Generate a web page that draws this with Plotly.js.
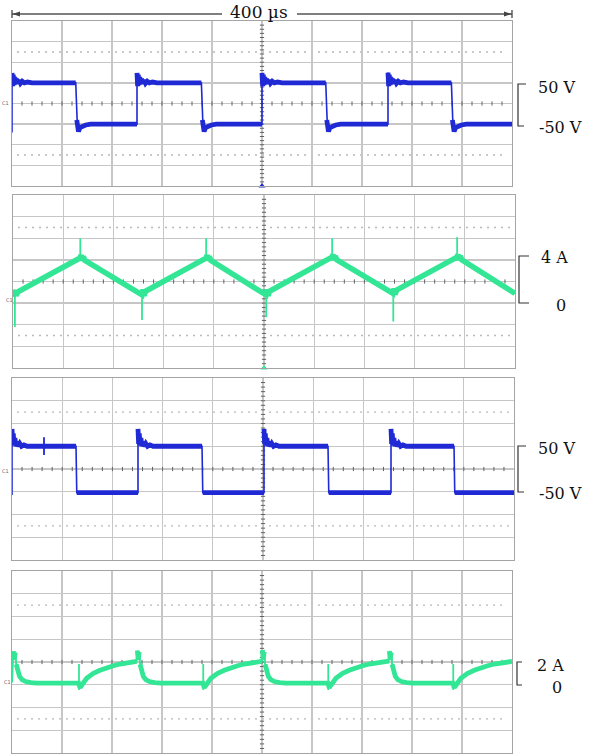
<!DOCTYPE html>
<html><head><meta charset="utf-8">
<script src="https://cdn.plot.ly/plotly-3.0.1.min.js"></script>
<style>html,body{margin:0;padding:0;background:#fff;}#chart{width:591px;height:755px;}</style>
</head><body><div id="chart"></div>
<script>
// ---------- text ----------
const spanLabel = "400 µs";
const ch1Labels = ["50 V", "-50 V"];
const ch2Labels = ["4 A", "0"];
const ch3Labels = ["50 V", "-50 V"];
const ch4Labels = ["2 A", "0"];
const chanTags = ["C1", "C1", "C1", "C1"];

// ---------- panel 1 : voltage (V) vs time (µs) ----------
const t_ch1 = [0,0,0.5,1,1.6,2.2,2.9,3.7,4.6,5.6,6.8,8.2,10,12.5,16,
  51,51.8,52.4,53.2,54.4,56,59,63,
  100,100,100.5,101,101.6,102.2,102.9,103.7,104.6,105.6,106.8,108.2,110,112.5,116,
  151.5,152.3,152.9,153.7,154.9,156.5,159.5,163.5,
  200,200,200.5,201,201.6,202.2,202.9,203.7,204.6,205.6,206.8,208.2,210,212.5,216,
  251,251.8,252.4,253.2,254.4,256,259,263,
  300.8,300.8,301.3,301.8,302.4,303,303.7,304.5,305.4,306.4,307.6,309,310.8,313.3,316.8,
  351.5,352.3,352.9,353.7,354.9,356.5,359.5,363.5,
  400];
const v_ch1 = [-70,74,42,70,45,64,47,60,48,57,49,54,50,52,50,
  50,-40,-64,-68,-58,-55,-52,-50,
  -50,74,42,70,45,64,47,60,48,57,49,54,50,52,50,
  50,-40,-64,-68,-58,-55,-52,-50,
  -50,74,42,70,45,64,47,60,48,57,49,54,50,52,50,
  50,-40,-64,-68,-58,-55,-52,-50,
  -50,75,42,70,45,64,47,60,48,57,49,54,50,52,50,
  50,-40,-64,-68,-58,-55,-52,-50,
  -50];

// ---------- panel 2 : current (A) ----------
const t_ch2 = [0,1.2,2.5,4, 53.4,54.2,55,56,57.2, 102.8,103.6,104.5,105.6,
  153.8,154.6,155.4,156.4,157.6, 201.6,202.4,203.3,204.4,
  254.2,255,255.8,256.8,258, 302.8,303.6,304.5,305.6,
  353.8,354.6,355.4,356.4,357.6, 400];
const i_ch2 = [0.6,1.2,0.7,1.05, 4.17,4.45,3.95,4.3,3.95, 0.76,1.25,0.7,1.1,
  4.17,4.45,3.95,4.3,3.95, 0.76,1.25,0.7,1.1,
  4.25,4.5,4.0,4.35,4.0, 0.9,1.35,0.8,1.2,
  4.25,4.5,4.0,4.35,4.0, 0.9];
const t_ch2spk = [1.5,1.5,null, 53.6,53.6,null, 102.8,102.8,null, 153.9,153.9,null, 201.8,201.8,null, 254.3,254.3,null, 303,303,null, 353.9,353.9];
const i_ch2spk = [0.9,-2.2,null, 4.2,6.0,null, 0.8,-1.55,null, 4.2,6.0,null, 0.8,-1.3,null, 4.25,6.0,null, 0.9,-1.7,null, 4.25,6.1];

// ---------- panel 3 : voltage (V) ----------
const t_ch3 = [0,0,0.5,1,1.6,2.3,3.1,4,5,6.2,7.6,9.5,12, 51,51.6,
  100.4,100.4,100.9,101.4,102,102.7,103.5,104.4,105.4,106.6,108,109.9,112.4, 151.4,152,
  200.8,200.8,201.3,201.8,202.4,203.1,203.9,204.8,205.8,207,208.4,210.3,212.8, 251.8,252.4,
  302,302,302.5,303,303.6,304.3,305.1,306,307,308.2,309.6,311.5,314, 352.2,352.8,
  400];
const v_ch3 = [-57,88,55,78,52,68,50,60,50,56,50,53,50, 50,-52,
  -52,88,55,78,52,68,50,60,50,56,50,53,50, 50,-52,
  -52,88,55,78,52,68,50,60,50,56,50,53,50, 50,-52,
  -52,88,55,78,52,68,50,60,50,56,50,53,50, 50,-52,
  -52];
const t_ch3spk = [25.5,25.5];
const v_ch3spk = [70,31];

// ---------- panel 4 : current (A) ----------
const t_ch4 = [0,1.0,1.8,2.6,3.4,4.5,6,8,11,15,20, 53.3,
  54.4,59.7,65.1,70.4,75.7,81.1,86.4,91.7,97.1,99.7,
  100.3,101,101.7,102.5,103.6,105,107,110,114,119, 152.7,
  153.8,159.1,164.5,169.8,175.1,180.5,185.8,191.1,196.5,199.7,
  200.3,201,201.7,202.5,203.6,205,207,210,214,219, 252.7,
  253.8,259.1,264.5,269.8,275.1,280.5,285.8,291.1,296.5,301.4,
  301.9,302.6,303.3,304.1,305.2,306.6,308.6,311.6,315.6,320.6, 352.7,
  353.8,359.1,364.5,369.8,375.1,380.5,385.8,391.1,396.5,400];
const i_ch4 = [0.2,2.95,2.2,2.85,1.8,1.2,0.75,0.45,0.28,0.18,0.15, 0.15,
  -0.26,0.57,1.0,1.27,1.5,1.67,1.82,1.94,2.03,2.05,
  3.0,2.2,2.9,1.8,1.2,0.75,0.45,0.28,0.18,0.15, 0.15,
  -0.26,0.57,1.0,1.27,1.5,1.67,1.82,1.94,2.03,2.05,
  3.05,2.2,2.9,1.8,1.2,0.75,0.45,0.28,0.18,0.15, 0.15,
  -0.26,0.57,1.0,1.27,1.5,1.67,1.82,1.94,2.03,2.07,
  2.97,2.2,2.85,1.8,1.2,0.75,0.45,0.28,0.18,0.15, 0.15,
  -0.26,0.57,1.0,1.27,1.5,1.67,1.82,1.94,2.03,2.05];
const t_ch4spk = [53.6,53.6,null, 153,153,null, 253,253,null, 353,353];
const i_ch4spk = [1.82,-0.46,null, 1.82,-0.46,null, 1.82,-0.46,null, 1.82,-0.46];

// ---------- styling / layout ----------
const W = 591, H = 755;
const PX = x => x / W, PY = y => 1 - y / H;
const BLUE = "#1f29d4", GREEN = "#33e695";
const GRID = "#c6c6c6", BORDER = "#a4a4a4", CENTER = "#707070";
const SERIF = "DejaVu Serif, Liberation Serif, serif";

// panel boxes in pixels [left, right, top, bottom] and vertical scale
const panels = [
  {box:[12,512,21,186], c:0, d:50},
  {box:[13,515,195,368], c:2, d:2},
  {box:[12,514,378,560], c:0, d:50},
  {box:[12,512,571,753], c:2, d:2}
];

const layout = {
  width: W, height: H, margin: {l:0, r:0, t:0, b:0},
  paper_bgcolor: "#fff", plot_bgcolor: "#fff", showlegend: false,
  shapes: [], annotations: []
};
const data = [];

panels.forEach((p, idx) => {
  const k = idx + 1;
  const xs = k === 1 ? "" : String(k);
  const [l, r, t, b] = p.box;
  layout["xaxis" + xs] = {
    domain: [PX(l), PX(r)], range: [0, 400], anchor: "y" + xs,
    showgrid: true, gridcolor: GRID, gridwidth: 1.3, tick0: 0, dtick: 40,
    showline: true, mirror: true, linecolor: BORDER, linewidth: 1.3,
    zeroline: false, showticklabels: false, ticks: "", fixedrange: true
  };
  layout["yaxis" + xs] = {
    domain: [PY(b), PY(t)], range: [p.c - 4*p.d, p.c + 4*p.d], anchor: "x" + xs,
    showgrid: true, gridcolor: GRID, gridwidth: 1.3, tick0: p.c, dtick: p.d,
    showline: true, mirror: true, linecolor: BORDER, linewidth: 1.3,
    zeroline: false, showticklabels: false, ticks: "", fixedrange: true
  };
  const xd = "x" + xs + " domain", yd = "y" + xs + " domain";
  [2.5, -2.5].forEach(m => layout.shapes.push({
    type: "line", xref: xd, yref: "y" + xs, x0: 0.01, x1: 0.99,
    y0: p.c + m*p.d, y1: p.c + m*p.d,
    line: {color: "#b8b8b8", width: 1.4, dash: "2px,5px"}, layer: "below"
  }));
  layout.shapes.push({type:"line", xref: xd, yref:"y"+xs, x0:0, x1:1, y0:p.c, y1:p.c,
    line:{color: CENTER, width: 1}, layer:"below"});
  layout.shapes.push({type:"line", xref:"x"+xs, yref: yd, x0:200, x1:200, y0:0, y1:1,
    line:{color: CENTER, width: 1}, layer:"below"});
  const hx = [], hy = [], vx = [], vy = [];
  for (let j = 1; j < 50; j++) { hx.push(j*8); hy.push(p.c); }
  for (let j = -19; j < 20; j++) { vx.push(200); vy.push(p.c + j*p.d/5); }
  data.push({x: hx, y: hy, xaxis:"x"+xs, yaxis:"y"+xs, mode:"markers", hoverinfo:"skip",
    marker:{symbol:"line-ns", size:3, line:{width:1, color:"#606060"}}});
  data.push({x: vx, y: vy, xaxis:"x"+xs, yaxis:"y"+xs, mode:"markers", hoverinfo:"skip",
    marker:{symbol:"line-ew", size:3, line:{width:1, color:"#606060"}}});
});

// thick noise band: the same samples, broken at the steep switching edges
function band(t, v, thr) {
  const bt = [], bv = [];
  for (let j = 0; j < t.length; j++) {
    if (j > 0 && Math.abs(v[j] - v[j-1]) > thr) { bt.push(null); bv.push(null); }
    bt.push(t[j]); bv.push(v[j]);
  }
  return [bt, bv];
}
function addWave(t, v, ax, color, thin, thick, thr) {
  const [bt, bv] = band(t, v, thr);
  data.push({x:t, y:v, xaxis:"x"+ax, yaxis:"y"+ax, mode:"lines", line:{color, width:thin}, hoverinfo:"skip"});
  data.push({x:bt, y:bv, xaxis:"x"+ax, yaxis:"y"+ax, mode:"lines", line:{color, width:thick}, connectgaps:false, hoverinfo:"skip"});
}
addWave(t_ch1, v_ch1, "", BLUE, 1.6, 4.8, 60);
addWave(t_ch2, i_ch2, "2", GREEN, 2, 5.5, 100);
data.push({x:t_ch2spk, y:i_ch2spk, xaxis:"x2", yaxis:"y2", mode:"lines", line:{color:GREEN, width:1.8}, connectgaps:false, hoverinfo:"skip"});
addWave(t_ch3, v_ch3, "3", BLUE, 1.6, 4.8, 60);
data.push({x:t_ch3spk, y:v_ch3spk, xaxis:"x3", yaxis:"y3", mode:"lines", line:{color:BLUE, width:1.8}, hoverinfo:"skip"});
addWave(t_ch4, i_ch4, "4", GREEN, 2, 4.8, 0.9);
data.push({x:t_ch4spk, y:i_ch4spk, xaxis:"x4", yaxis:"y4", mode:"lines", line:{color:GREEN, width:1.8}, connectgaps:false, hoverinfo:"skip"});

// trigger markers at bottom centre of panels 1 & 2
data.push({x:[200], y:[-200], xaxis:"x", yaxis:"y", mode:"markers", cliponaxis:false, hoverinfo:"skip",
  marker:{symbol:"triangle-up", size:6, color:BLUE}});
data.push({x:[200], y:[-6], xaxis:"x2", yaxis:"y2", mode:"markers", cliponaxis:false, hoverinfo:"skip",
  marker:{symbol:"triangle-up", size:6, color:GREEN}});

// header: time-span arrow
const hy = 14;
layout.shapes.push({type:"line", xref:"paper", yref:"paper", x0:PX(12), x1:PX(222), y0:PY(hy), y1:PY(hy), line:{color:"#555", width:1.5}});
layout.shapes.push({type:"line", xref:"paper", yref:"paper", x0:PX(297), x1:PX(512), y0:PY(hy), y1:PY(hy), line:{color:"#555", width:1.5}});
layout.shapes.push({type:"line", xref:"paper", yref:"paper", x0:PX(12), x1:PX(12), y0:PY(10), y1:PY(18), line:{color:"#444", width:1.3}});
layout.shapes.push({type:"line", xref:"paper", yref:"paper", x0:PX(512), x1:PX(512), y0:PY(10), y1:PY(18), line:{color:"#444", width:1.3}});
layout.shapes.push({type:"path", xref:"paper", yref:"paper", fillcolor:"#444", line:{width:0},
  path:`M ${PX(12.5)},${PY(hy)} L ${PX(20)},${PY(11.5)} L ${PX(20)},${PY(16.5)} Z`});
layout.shapes.push({type:"path", xref:"paper", yref:"paper", fillcolor:"#444", line:{width:0},
  path:`M ${PX(511.5)},${PY(hy)} L ${PX(504)},${PY(11.5)} L ${PX(504)},${PY(16.5)} Z`});
layout.annotations.push({text: spanLabel, xref:"paper", yref:"paper", x:PX(259), y:PY(12),
  xanchor:"center", yanchor:"middle", showarrow:false, font:{family:SERIF, size:17, color:"#111"}});

// right-hand scale brackets and labels
function bracket(xv, xt1, xt2, y1, y2) {
  layout.shapes.push({type:"path", xref:"paper", yref:"paper", line:{color:"#333", width:1.2},
    path:`M ${PX(xt1)},${PY(y1)} L ${PX(xv)},${PY(y1)} L ${PX(xv)},${PY(y2)} L ${PX(xt2)},${PY(y2)}`});
}
function label(txt, x, y, anchor) {
  layout.annotations.push({text: txt, xref:"paper", yref:"paper", x:PX(x), y:PY(y),
    xanchor: anchor, yanchor:"middle", showarrow:false, font:{family:SERIF, size:16, color:"#111"}});
}
bracket(518, 526, 524, 84, 126);
label(ch1Labels[0], 536, 87, "left");
label(ch1Labels[1], 537, 127, "left");
bracket(519, 529, 529, 256, 303);
label(ch2Labels[0], 539, 257, "left");
label(ch2Labels[1], 561, 305, "center");
bracket(518, 526, 524, 446, 492);
label(ch3Labels[0], 536, 448, "left");
label(ch3Labels[1], 537, 493, "left");
bracket(517, 522, 522, 662, 685);
label(ch4Labels[0], 535, 665, "left");
label(ch4Labels[1], 557, 687, "center");

// small channel tags at left
[[5,103],[9,300],[5,471],[7,682]].forEach((pos, j) => {
  layout.annotations.push({text: chanTags[j], xref:"paper", yref:"paper", x:PX(pos[0]), y:PY(pos[1]),
    xanchor:"center", yanchor:"middle", showarrow:false, font:{family:"DejaVu Sans", size:5, color:"#667"}});
});

Plotly.newPlot("chart", data, layout, {staticPlot:true, displayModeBar:false});
</script>
</body></html>
